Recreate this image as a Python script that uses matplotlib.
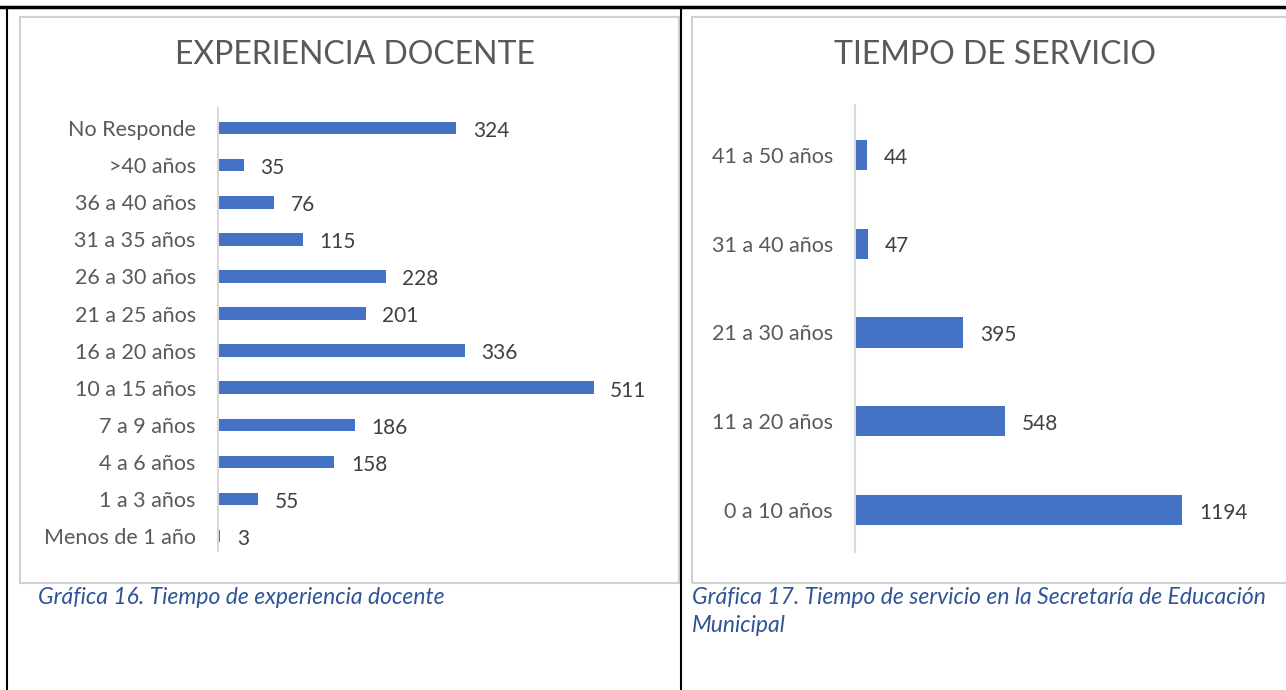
import matplotlib
matplotlib.use('Agg')
import matplotlib.pyplot as plt
from matplotlib.patches import Rectangle
from matplotlib.lines import Line2D

# data (bottom to top, as drawn)
exp_labels = ["Menos de 1 año", "1 a 3 años", "4 a 6 años", "7 a 9 años", "10 a 15 años",
              "16 a 20 años", "21 a 25 años", "26 a 30 años", "31 a 35 años", "36 a 40 años",
              ">40 años", "No Responde"]
exp_values = [3, 55, 158, 186, 511, 336, 201, 228, 115, 76, 35, 324]

serv_labels = ["0 a 10 años", "11 a 20 años", "21 a 30 años", "31 a 40 años", "41 a 50 años"]
serv_values = [1194, 548, 395, 47, 44]

W, H = 1286, 690
BAR = "#4472C4"
TXT = "#595959"
CAP = "#2E5496"
FONT = "Lato"

fig = plt.figure(figsize=(W / 100, H / 100), dpi=100)


def px_axes(x0, y0, x1, y1):
    # pixel box (top-left origin) -> figure axes
    return fig.add_axes([x0 / W, 1 - y1 / H, (x1 - x0) / W, (y1 - y0) / H])


def frame(x0, y0, x1, y1):
    fig.patches.append(Rectangle((x0 / W, 1 - y1 / H), (x1 - x0) / W, (y1 - y0) / H,
                                 transform=fig.transFigure, fill=False,
                                 edgecolor="#D0D0D0", linewidth=1.5, zorder=0))


def bar_chart(ax, labels, values, height, xmax, ylim, offset):
    ys = range(len(values))
    ax.barh(ys, values, height=height, color=BAR, zorder=2)
    ax.set_xlim(0, xmax)
    ax.set_ylim(*ylim)
    ax.set_yticks(list(ys))
    ax.set_yticklabels(labels, fontsize=15.5, color=TXT, family=FONT)
    ax.tick_params(axis="y", length=0, pad=16)
    ax.set_xticks([])
    for s in ["top", "right", "bottom"]:
        ax.spines[s].set_visible(False)
    ax.spines["left"].set_color("#D9D9D9")
    ax.spines["left"].set_linewidth(1.5)
    for y, v in zip(ys, values):
        ax.annotate(str(v), (v, y), xytext=(offset, -2), textcoords="offset points",
                    va="center", ha="left", fontsize=15, color="#404040", family=FONT)


# chart frames
frame(20, 17, 679, 583)
frame(692, 17, 1300, 583)

# left chart
ax1 = px_axes(218, 107.6, 640, 551)
bar_chart(ax1, exp_labels, exp_values, 0.34, 422 / 0.735, (-0.4, 11.55), 12)
fig.text(355 / W, 1 - 55 / H, "EXPERIENCIA DOCENTE", ha="center", va="center",
         fontsize=23, color=TXT, family=FONT)

# right chart
ax2 = px_axes(855, 105, 1270, 552)
bar_chart(ax2, serv_labels, serv_values, 0.34, 415 / 0.274, (-0.47, 4.56), 12)
fig.text(995 / W, 1 - 55 / H, "TIEMPO DE SERVICIO", ha="center", va="center",
         fontsize=23, color=TXT, family=FONT)

# table borders
fig.lines.append(Line2D([0, 1], [1 - 7 / H, 1 - 7 / H], transform=fig.transFigure,
                        color="black", linewidth=2.5))
fig.lines.append(Line2D([7 / W, 7 / W], [0, 1 - 7 / H], transform=fig.transFigure,
                        color="black", linewidth=1.5))
fig.lines.append(Line2D([681 / W, 681 / W], [0, 1 - 7 / H], transform=fig.transFigure,
                        color="black", linewidth=1.5))

# captions
fig.text(38 / W, 1 - 597 / H, "Gráfica 16. Tiempo de experiencia docente",
         ha="left", va="center", fontsize=16.5, style="italic", color=CAP, family=FONT)
fig.text(692 / W, 1 - 597 / H, "Gráfica 17. Tiempo de servicio en la Secretaría de Educación",
         ha="left", va="center", fontsize=16.5, style="italic", color=CAP, family=FONT)
fig.text(692 / W, 1 - 625 / H, "Municipal",
         ha="left", va="center", fontsize=16.5, style="italic", color=CAP, family=FONT)

fig.savefig("out.png", dpi=100, facecolor="white")
